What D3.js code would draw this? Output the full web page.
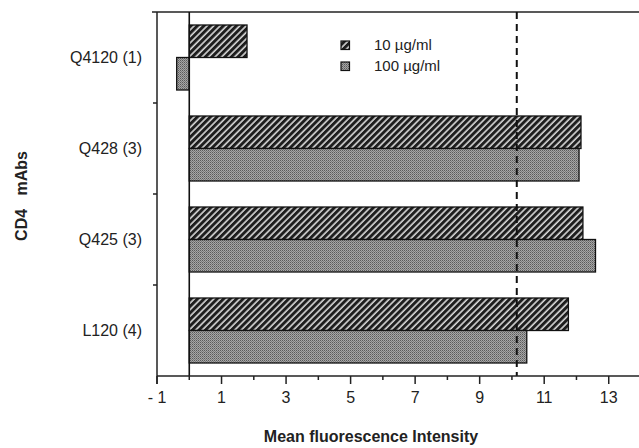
<!DOCTYPE html>
<html><head><meta charset="utf-8">
<script src="https://cdn.jsdelivr.net/npm/d3@7"></script>
<style>body{margin:0;background:#fff}svg{display:block}text{font-family:"Liberation Sans",Arial,sans-serif;fill:#222}</style>
</head><body><svg id="c" width="639" height="448"></svg>
<script>
const categories = ["Q4120 (1)", "Q428 (3)", "Q425 (3)", "L120 (4)"];
const series = ["10 µg/ml", "100 µg/ml"];
const values10 = [1.79, 12.14, 12.2, 11.75];
const values100 = [-0.39, 12.08, 12.59, 10.46];
const majorTicks = [-1, 1, 3, 5, 7, 9, 11, 13];
const minorTicks = [0, 2, 4, 6, 8, 10, 12];
const thresholdValue = [10.15];

const svg = d3.select("#c");
const x = d3.scaleLinear().domain([-1, 14]).range([157, 641]);
const y = d3.scaleBand().domain(categories).range([12, 376]).paddingInner(0).paddingOuter(0);
const sub = d3.scaleBand().domain(series).range([0, y.bandwidth()]).paddingOuter(0.4).paddingInner(0);

const defs = svg.append("defs");
const hp = defs.append("pattern").attr("id","hatch").attr("patternUnits","userSpaceOnUse")
  .attr("width",4.6).attr("height",4.6).attr("patternTransform","rotate(45)");
hp.append("rect").attr("width",4.6).attr("height",4.6).attr("fill","#d8d8d8");
hp.append("rect").attr("width",3).attr("height",4.6).attr("fill","#1e1e1e");
const sp = defs.append("pattern").attr("id","stip").attr("patternUnits","userSpaceOnUse")
  .attr("width",2).attr("height",2);
sp.append("rect").attr("width",2).attr("height",2).attr("fill","#a6a6a6");
sp.append("rect").attr("width",1).attr("height",1).attr("fill","#5a5a5a");
sp.append("rect").attr("x",1).attr("y",1).attr("width",1).attr("height",1).attr("fill","#7a7a7a");
const fills = {"10 µg/ml":"url(#hatch)","100 µg/ml":"url(#stip)"};

const rows = categories.map((c,i)=>({c, vals:[{s:series[0],v:values10[i]},{s:series[1],v:values100[i]}]}));
const g = svg.append("g");
rows.forEach(r=>{
  g.selectAll(null).data(r.vals).enter().append("rect")
    .attr("x", d=>x(Math.min(0,d.v)))
    .attr("width", d=>Math.abs(x(d.v)-x(0)))
    .attr("y", d=>y(r.c)+sub(d.s))
    .attr("height", sub.bandwidth())
    .attr("fill", d=>fills[d.s])
    .attr("stroke","#111").attr("stroke-width",1.3);
});

// frame lines
svg.append("line").attr("x1",152).attr("x2",639).attr("y1",12).attr("y2",12).attr("stroke","#222").attr("stroke-width",1.5);
svg.append("line").attr("x1",x(-1)).attr("x2",x(-1)).attr("y1",12).attr("y2",384).attr("stroke","#222").attr("stroke-width",1.5);
svg.append("line").attr("x1",x(0)).attr("x2",x(0)).attr("y1",12).attr("y2",376).attr("stroke","#111").attr("stroke-width",1.6);
svg.selectAll(null).data(thresholdValue).enter().append("line")
  .attr("x1",d=>x(d)).attr("x2",d=>x(d)).attr("y1",12).attr("y2",376)
  .attr("stroke","#111").attr("stroke-width",2).attr("stroke-dasharray","7,5");

// x axis
const xAxis = svg.append("g").attr("transform","translate(0,376)");
xAxis.append("line").attr("x1",x(-1)).attr("x2",639).attr("stroke","#222").attr("stroke-width",1.5);
xAxis.selectAll(".maj").data(majorTicks).enter().append("line")
  .attr("x1",d=>x(d)).attr("x2",d=>x(d)).attr("y1",0).attr("y2",8).attr("stroke","#222").attr("stroke-width",1.5);
xAxis.selectAll(".min").data(minorTicks).enter().append("line")
  .attr("x1",d=>x(d)).attr("x2",d=>x(d)).attr("y1",0).attr("y2",4).attr("stroke","#222").attr("stroke-width",1.5);
xAxis.selectAll(".lbl").data(majorTicks).enter().append("text")
  .attr("x",d=>x(d)).attr("y",27).attr("text-anchor","middle").attr("font-size",16)
  .style("white-space","pre").text(d=>d<0?"- "+Math.abs(d):String(d));

// y axis ticks at band boundaries
svg.selectAll(".yt").data(categories.slice(1)).enter().append("line")
  .attr("x1",x(-1)-4).attr("x2",x(-1)).attr("y1",d=>y(d)).attr("y2",d=>y(d)).attr("stroke","#222").attr("stroke-width",1.5);
svg.selectAll(".yl").data(categories).enter().append("text")
  .attr("x",142).attr("y",d=>y(d)+y.bandwidth()/2+5).attr("text-anchor","end").attr("font-size",16)
  .text(d=>d);

// titles
svg.append("text").attr("x",371).attr("y",442).attr("text-anchor","middle").attr("font-size",16).attr("font-weight","bold").text("Mean fluorescence Intensity");
svg.append("text").attr("transform","translate(27,196) rotate(-90)").attr("text-anchor","middle").attr("font-size",16).attr("font-weight","bold").style("white-space","pre").text("CD4   mAbs");

// legend
const lg = svg.append("g");
series.forEach((s,i)=>{
  lg.append("rect").attr("x",341).attr("y",41+i*21).attr("width",8.5).attr("height",8.5)
    .attr("fill",fills[s]).attr("stroke","#111").attr("stroke-width",1.2);
  lg.append("text").attr("x",374).attr("y",50+i*21).attr("font-size",15).text(s);
});
</script></body></html>
